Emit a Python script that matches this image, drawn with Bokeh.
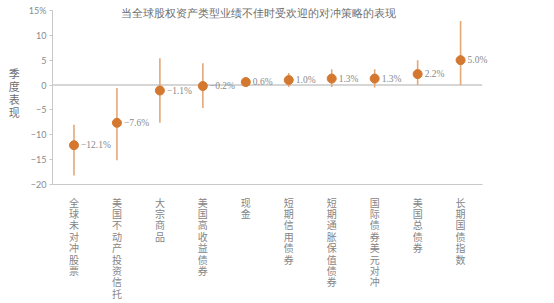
from bokeh.plotting import figure
from bokeh.models import ColumnDataSource, Range1d, FixedTicker, LabelSet
from bokeh.embed import file_html
from bokeh.resources import INLINE

categories = ["全球未对冲股票", "美国不动产投资信托", "大宗商品", "美国高收益债券", "现金",
              "短期信用债券", "短期通胀保值债券", "国际债券美元对冲", "美国总债券", "长期国债指数"]
values = [-12.1, -7.6, -1.1, -0.2, 0.6, 1.0, 1.3, 1.3, 2.2, 5.0]
upper = [-8.0, -0.6, 5.4, 4.4, 1.0, 2.4, 3.2, 3.2, 5.0, 12.9]
lower = [-18.2, -15.1, -7.6, -4.6, 0.2, -0.4, -0.4, -0.5, 0.0, 0.0]
y_ticks = [15, 10, 5, 0, -5, -10, -15, -20]
title_text = "当全球股权资产类型业绩不佳时受欢迎的对冲策略的表现"
y_label = "季度表现"

FONT = "Noto Sans CJK SC"
n = len(categories)
xs = list(range(n))
labels = [("−" if v < 0 else "") + f"{abs(v):.1f}%" for v in values]

src = ColumnDataSource(dict(x=xs, y=values, up=upper, lo=lower, lab=labels))

p = figure(width=554, height=303, output_backend="svg", toolbar_location=None,
           x_range=Range1d(-0.5, -0.5 + 502.5 / 43), y_range=Range1d(-20, 17),
           min_border_left=52, min_border_right=0, min_border_top=0, min_border_bottom=118)
p.outline_line_color = None
p.grid.grid_line_color = None
p.background_fill_color = "white"
p.title = None

# zero line across the category band
p.line(x=[-0.5, n - 0.5], y=[0, 0], line_color="#c8c8c8", line_width=1.5)

p.segment(x0="x", y0="lo", x1="x", y1="up", source=src, line_color="#e3a878", line_width=1.6)
p.scatter(x="x", y="y", source=src, size=9, fill_color="#d4782f", line_color="#d4782f")
p.add_layout(LabelSet(x="x", y="y", text="lab", source=src, x_offset=7, text_baseline="middle",
                      text_font="Lato", text_font_size="9.5px", text_color="#8a8a8a"))

p.add_layout(LabelSet(x="x", y="y", text="t",
                      source=ColumnDataSource(dict(x=[(n - 1) / 2 - 0.2], y=[14.5], t=[title_text])),
                      text_align="center", text_baseline="middle",
                      text_font=FONT, text_font_size="11px", text_color="#6e6e6e"))

ya = p.yaxis[0]
ya.ticker = FixedTicker(ticks=y_ticks)
ya.bounds = (-20, 15)
ya.major_label_overrides = {15: "15%"}
ya.axis_line_color = "#c8c8c8"
ya.major_tick_line_color = "#c8c8c8"
ya.major_tick_out = 3
ya.major_tick_in = 0
ya.minor_tick_line_color = None
ya.major_label_text_font = "Lato"
ya.major_label_text_font_size = "9px"
ya.major_label_text_color = "#8a8a8a"
ya.major_label_standoff = 3
ya.axis_label = "\n".join(y_label)
ya.axis_label_text_font = FONT
ya.axis_label_text_font_size = "11px"
ya.axis_label_text_font_style = "normal"
ya.axis_label_text_color = "#707070"
ya.axis_label_text_line_height = 0.8
ya.axis_label_standoff = 6
if hasattr(ya, "axis_label_orientation"):
    ya.axis_label_orientation = "horizontal"

xa = p.xaxis[0]
xa.ticker = FixedTicker(ticks=xs)
xa.bounds = (-0.5, n - 0.5)
xa.major_label_overrides = {i: "\n".join(c) for i, c in enumerate(categories)}
xa.axis_line_color = "#c8c8c8"
xa.major_tick_line_color = None
xa.minor_tick_line_color = None
xa.major_label_text_font = FONT
xa.major_label_text_font_size = "10px"
xa.major_label_text_color = "#858585"
xa.major_label_standoff = 4
xa.major_label_text_line_height = 0.76

open("out.html", "w").write(file_html(p, INLINE))
